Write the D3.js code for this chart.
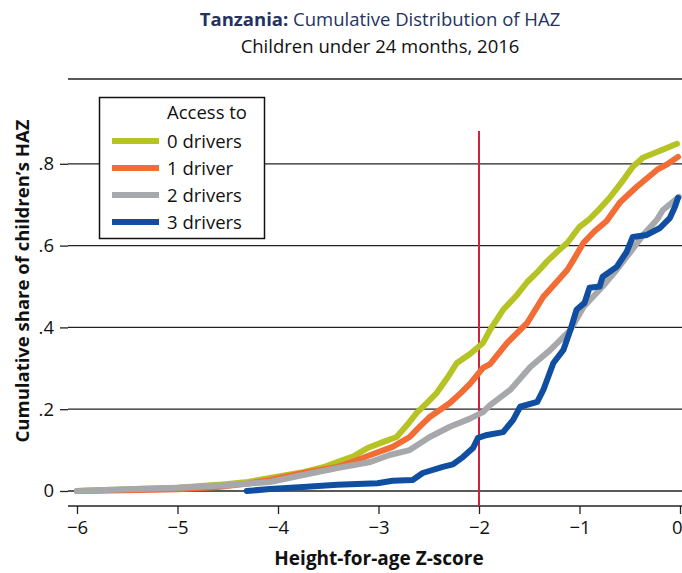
<!DOCTYPE html>
<html>
<head>
<meta charset="utf-8">
<script src="https://cdn.jsdelivr.net/npm/d3@7"></script>
<style>
  html, body { margin: 0; padding: 0; background: #fff; }
  svg { display: block; font-family: "Open Sans", "Noto Sans", sans-serif; }
</style>
</head>
<body>
<svg id="chart" width="682" height="573"></svg>
<script>
// Height-for-age Z-score (x) and cumulative share (y) for each group
const zeroX = [-6.00,-5.50,-5.00,-4.60,-4.30,-4.08,-3.75,-3.55,-3.41,-3.25,-3.11,-2.95,-2.82,-2.72,-2.62,-2.52,-2.42,-2.32,-2.22,-2.09,-1.96,-1.89,-1.76,-1.62,-1.52,-1.42,-1.32,-1.20,-1.12,-1.00,-0.90,-0.80,-0.70,-0.58,-0.47,-0.37,-0.23,-0.12,-0.03];
const zeroY = [0.000,0.004,0.008,0.015,0.022,0.032,0.046,0.058,0.071,0.085,0.105,0.120,0.132,0.160,0.191,0.215,0.240,0.275,0.313,0.335,0.362,0.394,0.443,0.480,0.511,0.535,0.562,0.590,0.607,0.646,0.665,0.690,0.717,0.755,0.793,0.815,0.829,0.840,0.849];

const oneX = [-6.00,-5.50,-5.00,-4.60,-4.30,-4.08,-3.75,-3.41,-3.25,-3.08,-2.86,-2.69,-2.58,-2.49,-2.29,-2.18,-2.09,-1.96,-1.89,-1.72,-1.52,-1.36,-1.25,-1.12,-1.06,-0.96,-0.85,-0.73,-0.60,-0.43,-0.23,-0.12,-0.02];
const oneY = [0.000,0.002,0.004,0.010,0.018,0.027,0.044,0.059,0.072,0.088,0.108,0.132,0.160,0.181,0.215,0.240,0.262,0.301,0.310,0.362,0.411,0.475,0.505,0.541,0.565,0.607,0.635,0.660,0.705,0.744,0.785,0.800,0.817];

const twoX = [-6.00,-5.50,-5.00,-4.50,-4.08,-3.75,-3.41,-3.08,-2.89,-2.69,-2.49,-2.29,-2.09,-1.96,-1.89,-1.69,-1.49,-1.29,-1.09,-0.96,-0.77,-0.63,-0.50,-0.37,-0.23,-0.17,-0.01];
const twoY = [0.000,0.004,0.008,0.014,0.022,0.039,0.056,0.071,0.088,0.100,0.132,0.157,0.177,0.193,0.210,0.247,0.303,0.345,0.394,0.450,0.500,0.541,0.582,0.625,0.663,0.687,0.719];

const threeX = [-4.31,-4.08,-3.75,-3.41,-3.01,-2.86,-2.66,-2.56,-2.36,-2.26,-2.16,-2.06,-2.01,-1.92,-1.76,-1.66,-1.59,-1.42,-1.36,-1.26,-1.16,-1.09,-1.03,-0.95,-0.90,-0.80,-0.77,-0.63,-0.53,-0.47,-0.33,-0.20,-0.10,-0.05,-0.02];
const threeY = [0.000,0.005,0.010,0.015,0.019,0.025,0.027,0.044,0.059,0.065,0.083,0.105,0.130,0.137,0.144,0.174,0.206,0.218,0.247,0.313,0.345,0.394,0.443,0.460,0.497,0.500,0.524,0.548,0.585,0.621,0.626,0.643,0.668,0.695,0.717];

const seriesNames = ["0 drivers", "1 driver", "2 drivers", "3 drivers"];
const seriesColors = ["#b5c424", "#f26d35", "#a7a8ab", "#0f4ea1"];
const xTicks = [-6, -5, -4, -3, -2, -1, 0];
const yTicks = [0, 0.2, 0.4, 0.6, 0.8];
const yTickLabels = ["0", ".2", ".4", ".6", ".8"];
const cutoff = -2;

const series = [
  {name: seriesNames[0], color: seriesColors[0], xs: zeroX, ys: zeroY},
  {name: seriesNames[1], color: seriesColors[1], xs: oneX, ys: oneY},
  {name: seriesNames[2], color: seriesColors[2], xs: twoX, ys: twoY},
  {name: seriesNames[3], color: seriesColors[3], xs: threeX, ys: threeY}
];

const svg = d3.select("#chart");
const x = d3.scaleLinear().domain([-6, 0]).range([77, 680]);
const y = d3.scaleLinear().domain([0, 1]).range([491, 82]);
const plotLeft = 68, plotRight = 682, plotTop = 79, axisY = 506;
const baseFont = 18.5;

// Title
const title = svg.append("text")
  .attr("x", 380).attr("y", 26).attr("text-anchor", "middle")
  .attr("font-size", baseFont).attr("fill", "#24335e");
title.append("tspan").attr("font-weight", "bold").text("Tanzania:");
title.append("tspan").text(" Cumulative Distribution of HAZ");
svg.append("text")
  .attr("x", 380).attr("y", 53).attr("text-anchor", "middle")
  .attr("font-size", baseFont).attr("fill", "#111").text("Children under 24 months, 2016");

// Top border of plot region
svg.append("line")
  .attr("x1", plotLeft).attr("x2", plotRight)
  .attr("y1", plotTop).attr("y2", plotTop)
  .attr("stroke", "#222").attr("stroke-width", 1.3);

// Y axis with full-width gridlines
const yAxis = svg.append("g")
  .attr("transform", `translate(${plotLeft},0)`)
  .call(d3.axisLeft(y).tickValues(yTicks).tickSize(8).tickPadding(6)
    .tickFormat((d, i) => yTickLabels[i]));
yAxis.select(".domain").remove();
yAxis.selectAll(".tick line").attr("stroke", "#222").attr("stroke-width", 1.3);
yAxis.selectAll(".tick text").attr("font-size", baseFont).attr("fill", "#111")
  .attr("font-family", "'Open Sans', sans-serif");
svg.append("g").selectAll("line").data(yTicks).join("line")
  .attr("x1", plotLeft).attr("x2", plotRight)
  .attr("y1", d => y(d)).attr("y2", d => y(d))
  .attr("stroke", "#222").attr("stroke-width", 1.3);

// X axis
const xAxis = svg.append("g")
  .attr("transform", `translate(0,${axisY})`)
  .call(d3.axisBottom(x).tickValues(xTicks).tickSize(8).tickPadding(7)
    .tickFormat(d => d < 0 ? "\u2212" + Math.abs(d) : String(d)));
xAxis.select(".domain").attr("d", `M${plotLeft},0H${plotRight}`)
  .attr("stroke", "#222").attr("stroke-width", 1.6);
xAxis.selectAll(".tick line").attr("stroke", "#222").attr("stroke-width", 1.3);
xAxis.selectAll(".tick text").attr("font-size", baseFont).attr("fill", "#111")
  .attr("font-family", "'Open Sans', sans-serif");
// keep the last label inside the right edge
xAxis.selectAll(".tick text").filter(d => d === 0)
  .attr("text-anchor", "end").attr("x", 2);

// Stunting cutoff at HAZ = -2
svg.append("line")
  .attr("x1", x(cutoff)).attr("x2", x(cutoff))
  .attr("y1", 131).attr("y2", axisY)
  .attr("stroke", "#cf2240").attr("stroke-width", 2);

// Cumulative distribution curves
const line = d3.line().x(d => x(d[0])).y(d => y(d[1]));
svg.append("g").selectAll("path").data(series).join("path")
  .attr("d", s => line(s.xs.map((v, i) => [v, s.ys[i]])))
  .attr("fill", "none")
  .attr("stroke", s => s.color)
  .attr("stroke-width", 6)
  .attr("stroke-linejoin", "round")
  .attr("stroke-linecap", "round");

// Axis titles
svg.append("text")
  .attr("transform", "translate(29,281) rotate(-90)")
  .attr("text-anchor", "middle").attr("font-size", 18.5).attr("font-weight", "bold")
  .attr("fill", "#111").text("Cumulative share of children\u2019s HAZ");
svg.append("text")
  .attr("x", 379).attr("y", 565).attr("text-anchor", "middle")
  .attr("font-size", 19).attr("font-weight", "bold")
  .attr("fill", "#111").text("Height-for-age Z-score");

// Legend
const legend = svg.append("g");
legend.append("rect")
  .attr("x", 99.5).attr("y", 97.5).attr("width", 165).attr("height", 141)
  .attr("fill", "#fff").attr("stroke", "#111").attr("stroke-width", 1.5);
legend.append("text")
  .attr("x", 167).attr("y", 119).attr("font-size", baseFont).attr("fill", "#111")
  .text("Access to");
const rows = legend.selectAll("g.row").data(series).join("g")
  .attr("class", "row")
  .attr("transform", (d, i) => `translate(0,${141 + i * 27})`);
rows.append("line")
  .attr("x1", 112).attr("x2", 159).attr("y1", 0).attr("y2", 0)
  .attr("stroke", d => d.color).attr("stroke-width", 6);
rows.append("text")
  .attr("x", 167).attr("y", 6.5).attr("font-size", baseFont).attr("fill", "#111")
  .text(d => d.name);
</script>
</body>
</html>
